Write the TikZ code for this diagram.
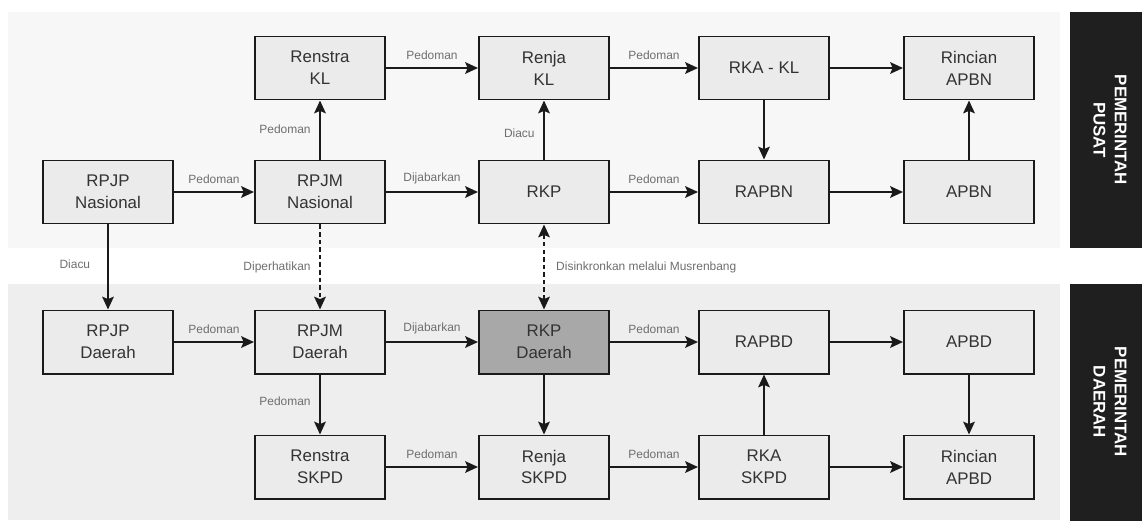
\documentclass[tikz,border=0pt]{standalone}
\usepackage{fontspec}
\setmainfont{Liberation Sans}
\usetikzlibrary{arrows.meta,positioning}
\definecolor{plink}{HTML}{1A1A1A}
\definecolor{pltext}{HTML}{333333}
\definecolor{plmute}{HTML}{6E6E6E}
\definecolor{plbox}{HTML}{EBEBEB}
\definecolor{plhot}{HTML}{A8A8A8}
\definecolor{pltop}{HTML}{F7F7F7}
\definecolor{plbot}{HTML}{EEEEEE}
\definecolor{plside}{HTML}{1F1F1F}
\tikzset{
  bx/.style={draw=plink, line width=1.4pt, fill=plbox, align=center, text=pltext,
    minimum width=3.25cm, minimum height=1.575cm, inner sep=1pt,
    font=\fontsize{12}{15.5}\selectfont},
  hot/.style={bx, fill=plhot},
  arr/.style={-{Stealth[length=3.2mm, width=2.9mm, inset=0.6mm]}, line width=1.4pt, color=plink},
  arr2/.style={{Stealth[length=3.2mm, width=2.9mm, inset=0.6mm]}-{Stealth[length=3.2mm, width=2.9mm, inset=0.6mm]}, line width=1.4pt, color=plink},
  dsh/.style={dash pattern=on 3.2pt off 2.2pt},
  lbl/.style={font=\fontsize{8.5}{10}\selectfont, text=plmute, inner sep=2pt},
  side/.style={fill=plside, draw=none},
  sidetxt/.style={rotate=-90, align=center, text=white, font=\fontsize{12}{15}\selectfont\bfseries},
}
\begin{document}
\begin{tikzpicture}[x=0.025cm, y=-0.025cm]
    \useasboundingbox (0,0) rectangle (1142,521);
    % panels
    \fill[pltop] (8,12) rectangle (1060,248);
    \fill[plbot] (8,284) rectangle (1060,520);
    \fill[side] (1070,12) rectangle (1142,248);
    \fill[side] (1070,284) rectangle (1142,521);
    \node[sidetxt] (pusat) at (1110,130) {PEMERINTAH\\PUSAT};
    \node[sidetxt] (daerah) at (1110,402) {PEMERINTAH\\DAERAH};
    % pusat
    \node[bx] (renstrakl) at (320,68) {Renstra\\KL};
    \node[bx] (renjakl) at (544,68) {Renja\\KL};
    \node[bx] (rkakl) at (764,68) {RKA - KL};
    \node[bx] (rincianapbn) at (969,68) {Rincian\\APBN};
    \node[bx] (rpjpn) at (108,192) {RPJP\\Nasional};
    \node[bx] (rpjmn) at (320,192) {RPJM\\Nasional};
    \node[bx] (rkp) at (544,192) {RKP};
    \node[bx] (rapbn) at (764,192) {RAPBN};
    \node[bx] (apbn) at (969,192) {APBN};
    % daerah
    \node[bx] (rpjpd) at (108,342) {RPJP\\Daerah};
    \node[bx] (rpjmd) at (320,342) {RPJM\\Daerah};
    \node[hot] (rkpd) at (544,342) {RKP\\Daerah};
    \node[bx] (rapbd) at (764,342) {RAPBD};
    \node[bx] (apbd) at (969,342) {APBD};
    \node[bx] (renstraskpd) at (320,467) {Renstra\\SKPD};
    \node[bx] (renjaskpd) at (544,467) {Renja\\SKPD};
    \node[bx] (rkaskpd) at (764,467) {RKA\\SKPD};
    \node[bx] (rincianapbd) at (969,467) {Rincian\\APBD};
    % arrows pusat
    \draw[arr] (rpjpn) -- node[lbl, above, yshift=3pt]{Pedoman} (rpjmn);
    \draw[arr] (rpjmn) -- node[lbl, left, xshift=-4pt, pos=0.52]{Pedoman} (renstrakl);
    \draw[arr] (renstrakl) -- node[lbl, above, yshift=3pt]{Pedoman} (renjakl);
    \draw[arr] (renjakl) -- node[lbl, above, yshift=3pt]{Pedoman} (rkakl);
    \draw[arr] (rkakl) -- (rincianapbn);
    \draw[arr] (rpjmn) -- node[lbl, above, yshift=3pt]{Dijabarkan} (rkp);
    \draw[arr] (rkp) -- node[lbl, left, xshift=-4pt, pos=0.45]{Diacu} (renjakl);
    \draw[arr] (rkp) -- node[lbl, above, yshift=3pt]{Pedoman} (rapbn);
    \draw[arr] (rkakl) -- (rapbn);
    \draw[arr] (rapbn) -- (apbn);
    \draw[arr] (apbn) -- (rincianapbn);
    % pusat ke daerah
    \draw[arr] (rpjpn) -- node[lbl, left, xshift=-10pt, pos=0.47]{Diacu} (rpjpd);
    \draw[arr, dsh] (rpjmn) -- node[lbl, left, xshift=-4pt, pos=0.5]{Diperhatikan} (rpjmd);
    \draw[arr2, dsh] (rkp) -- node[lbl, right, xshift=6pt, pos=0.5]{Disinkronkan melalui Musrenbang} (rkpd);
    % arrows daerah
    \draw[arr] (rpjpd) -- node[lbl, above, yshift=3pt]{Pedoman} (rpjmd);
    \draw[arr] (rpjmd) -- node[lbl, above, yshift=3pt]{Dijabarkan} (rkpd);
    \draw[arr] (rkpd) -- node[lbl, above, yshift=3pt]{Pedoman} (rapbd);
    \draw[arr] (rapbd) -- (apbd);
    \draw[arr] (apbd) -- (rincianapbd);
    \draw[arr] (rpjmd) -- node[lbl, left, xshift=-4pt, pos=0.45]{Pedoman} (renstraskpd);
    \draw[arr] (rkpd) -- (renjaskpd);
    \draw[arr] (renstraskpd) -- node[lbl, above, yshift=3pt]{Pedoman} (renjaskpd);
    \draw[arr] (renjaskpd) -- node[lbl, above, yshift=3pt]{Pedoman} (rkaskpd);
    \draw[arr] (rkaskpd) -- (rapbd);
    \draw[arr] (rkaskpd) -- (rincianapbd);
\end{tikzpicture}
\end{document}
